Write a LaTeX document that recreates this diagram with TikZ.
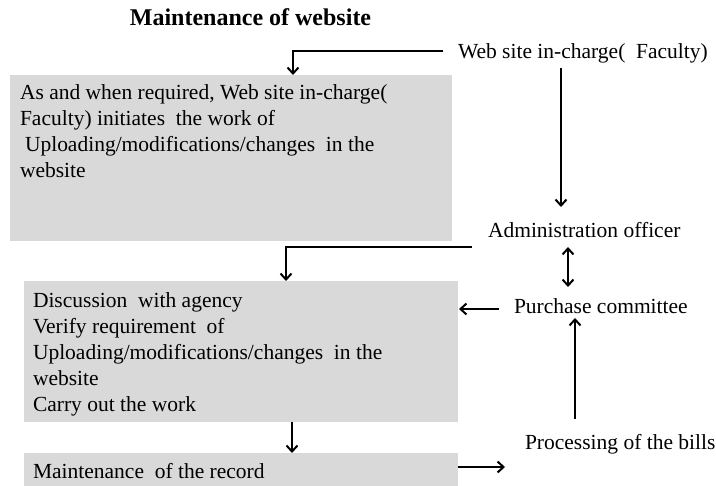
\documentclass[tikz,border=0pt]{standalone}
\usepackage{fontspec}
\setmainfont{Liberation Serif}
\newfontfamily\labelfont{Liberation Serif}
\usetikzlibrary{arrows.meta,calc}
\definecolor{panelgray}{HTML}{D9D9D9}
\begin{document}
\begin{tikzpicture}[x=1pt,y=-1pt,
  every node/.style={inner sep=0pt,outer sep=0pt},
  label/.style={font=\labelfont\fontsize{21.5}{26}\selectfont,anchor=base west,text height=15pt,text depth=0pt},
  body/.style={font=\labelfont\fontsize{21.5}{26}\selectfont,anchor=north west,align=left},
  panel/.style={fill=panelgray,draw=none,anchor=north west},
  tip/.tip={Straight Barb[length=6pt,width=11pt]},
  link/.style={line width=2pt,-tip},
  twoway/.style={line width=2pt,tip-tip}]
\useasboundingbox (0,0) rectangle (716,486);

% title
\node[font=\labelfont\fontsize{24}{28}\selectfont\bfseries,anchor=base] (title) at (250.5,26) {Maintenance of website};

% grey panels
\node[panel,minimum width=442pt,minimum height=166pt] (box1) at (10,75) {};
\node[panel,minimum width=434pt,minimum height=141pt] (box2) at (24,281) {};
\node[panel,minimum width=434pt,minimum height=40pt] (box3) at (24,453) {};

% panel texts
\node[body] (t1) at (20,84) {\rule{0pt}{16pt}As and when required, Web site in-charge(\\
Faculty) initiates \ the work of\\
\hspace{5pt}Uploading/modifications/changes \ in the\\
website};
\node[body] (t2) at (33,292) {\rule{0pt}{16pt}Discussion \ with agency\\
Verify requirement \ of\\
Uploading/modifications/changes \ in the\\
website\\
Carry out the work};
\node[label] (t3) at (33,479) {Maintenance \ of the record};

% side labels
\node[label] (web) at (458,59) {Web site in-charge( \ Faculty)};
\node[label] (admin) at (488,238) {Administration officer};
\node[label] (purchase) at (514,314) {Purchase committee};
\node[label] (bills) at (525,450) {Processing of the bills};

% connectors
\draw[link] ([xshift=-15pt]web.west) -| ([xshift=62pt]box1.north);
\draw[link] ([xshift=103pt,yshift=-9pt]web.south west) -- ([xshift=73pt,yshift=16pt]admin.north west);
\draw[link] ([xshift=-16pt,yshift=-9pt]admin.south west) -| ([xshift=45pt]box2.north);
\draw[twoway] ([xshift=80pt,yshift=-9pt]admin.south west) -- ([xshift=54pt,yshift=12pt]purchase.north west);
\draw[link] ([xshift=-15pt,yshift=-2.5pt]purchase.west) -- ($(purchase.west -| box2.east)+(1,2.5)$);
\draw[link] ([xshift=50pt,yshift=16pt]bills.north west) -- ([xshift=61pt,yshift=-4pt]purchase.south west);
\draw[link] ([xshift=51pt]box2.south) -- ([xshift=51pt]box3.north);
\draw[link] ([yshift=-14pt]box3.north east) -- ($(box3.north east -| bills.west)+(-20,14)$);
\end{tikzpicture}
\end{document}
